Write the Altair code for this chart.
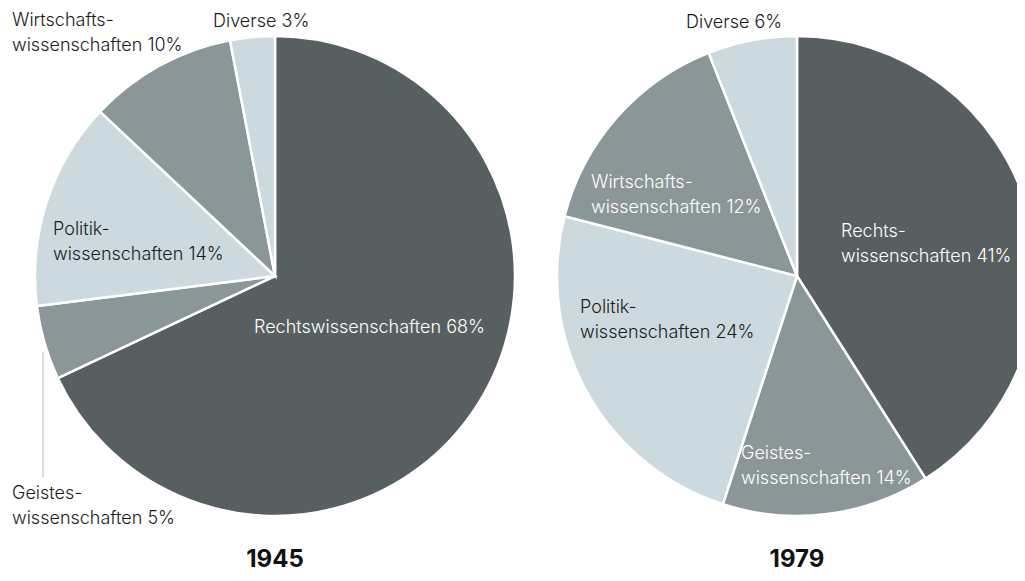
import altair as alt
import pandas as pd

# ---- data ----
categories = ["Rechtswissenschaften", "Geisteswissenschaften", "Politikwissenschaften",
              "Wirtschaftswissenschaften", "Diverse"]
values_1945 = [68, 5, 14, 10, 3]
values_1979 = [41, 14, 24, 15, 6]          # slice sizes as drawn
labels_1945 = ["Rechtswissenschaften 68%", "Geistes-\nwissenschaften 5%",
               "Politik-\nwissenschaften 14%", "Wirtschafts-\nwissenschaften 10%", "Diverse 3%"]
labels_1979 = ["Rechts-\nwissenschaften 41%", "Geistes-\nwissenschaften 14%",
               "Politik-\nwissenschaften 24%", "Wirtschafts-\nwissenschaften 12%", "Diverse 6%"]
years = ["1945", "1979"]

# ---- styling / layout ----
colors = ["#575f61", "#8b9699", "#ccdae0", "#8b9699", "#ccdae0"]
FONT = "Inter"
R = 240
centers = {"1945": (267, 268), "1979": (789, 268)}
# label anchor (left x, first baseline y) and text colour, in chart pixels
label_pos_1945 = [(246, 325, "white"), (4, 491, "#1a1a1a"), (45, 227, "#1a1a1a"),
                  (4, 18, "#1a1a1a"), (205, 19, "#1a1a1a")]
label_pos_1979 = [(833, 229, "white"), (733, 451, "white"), (572, 305, "#1a1a1a"),
                  (583, 180, "white"), (678, 20, "#1a1a1a")]

def pie_df(vals):
    return pd.DataFrame({"cat": categories, "value": vals, "ord": list(range(len(vals)))})

def pie(vals, year):
    cx, cy = centers[year]
    return alt.Chart(pie_df(vals)).mark_arc(
        outerRadius=R, stroke="white", strokeWidth=2.5
    ).encode(
        theta=alt.Theta("value:Q", stack=True),
        order=alt.Order("ord:Q"),
        color=alt.Color("cat:N", scale=alt.Scale(domain=categories, range=colors), legend=None),
        x=alt.value(cx), y=alt.value(cy),
    )

rows = []
for lab, (x, y, c) in zip(labels_1945, label_pos_1945):
    rows.append({"text": lab, "x": x, "y": y, "c": c})
for lab, (x, y, c) in zip(labels_1979, label_pos_1979):
    rows.append({"text": lab, "x": x, "y": y, "c": c})
lab_df = pd.DataFrame(rows)

labels = alt.Chart(lab_df).mark_text(
    align="left", baseline="alphabetic", lineBreak="\n", lineHeight=25,
    font=FONT, fontSize=18, fontWeight=300
).encode(
    x=alt.X("x:Q", scale=None), y=alt.Y("y:Q", scale=None),
    text="text:N", color=alt.Color("c:N", scale=None),
)

title_df = pd.DataFrame({"text": years, "x": [centers[y][0] for y in years], "y": [559, 559]})
titles = alt.Chart(title_df).mark_text(
    align="center", baseline="alphabetic", font=FONT, fontSize=24, fontWeight="bold", color="#111111"
).encode(x=alt.X("x:Q", scale=None), y=alt.Y("y:Q", scale=None), text="text:N")

leader = alt.Chart(pd.DataFrame({"a": [0]})).mark_rule(color="#cfcfcf", strokeWidth=1.5).encode(
    x=alt.value(35), y=alt.value(344), y2=alt.value(469)
)

chart = alt.layer(
    pie(values_1945, "1945"), pie(values_1979, "1979"), leader, labels, titles
).properties(
    width=1009, height=565, autosize=alt.AutoSizeParams(type="none"), padding=0
).configure_view(stroke=None).resolve_scale(color="independent")

chart.save("out.html", embed_options={"renderer": "svg", "actions": False})
